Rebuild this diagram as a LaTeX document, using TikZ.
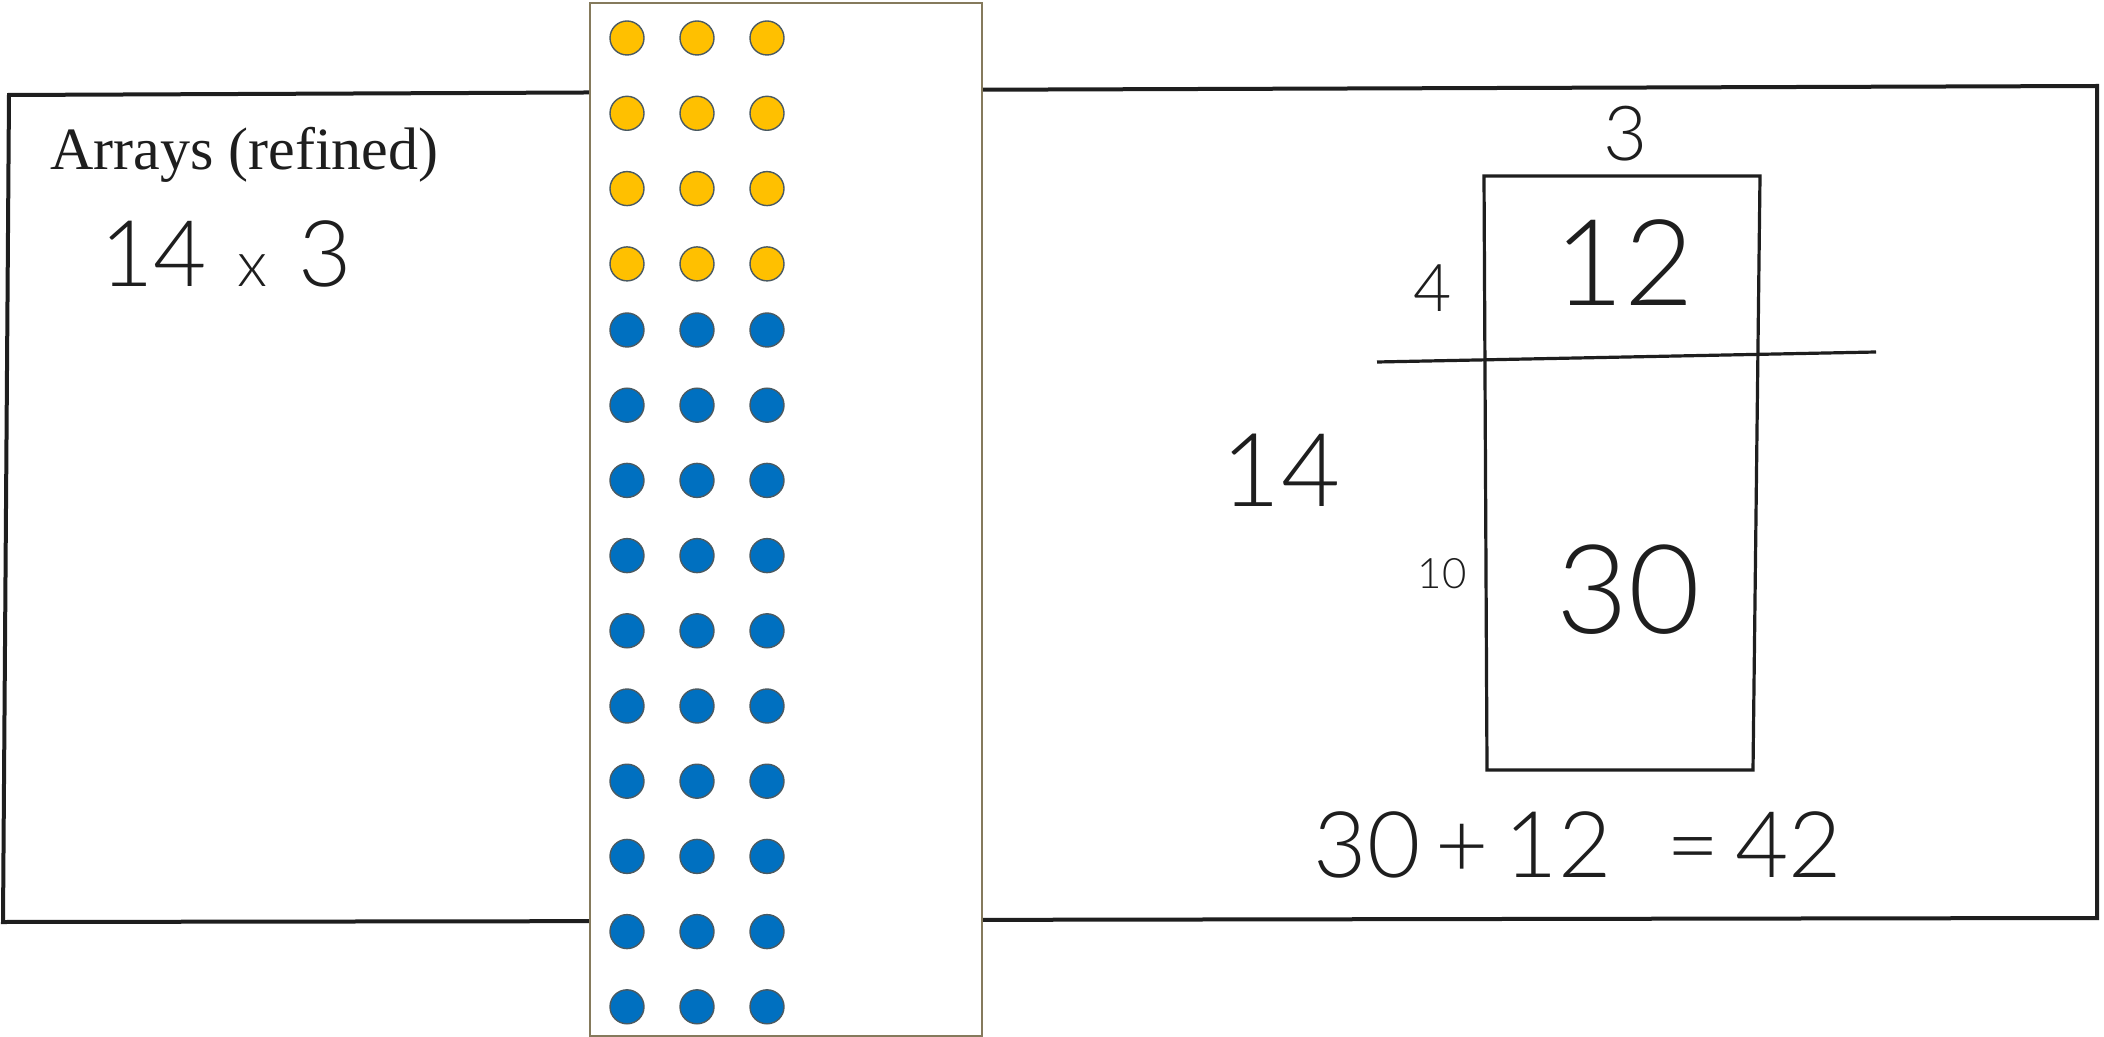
\documentclass[tikz,border=0pt]{standalone}
\usepackage{fontspec}
\setmainfont{Liberation Serif}
\newfontfamily\hand{Lato Light}
\definecolor{dotyellow}{HTML}{FFC000}
\definecolor{dotblue}{HTML}{0070C0}
\definecolor{dotline}{HTML}{4A5A62}
\definecolor{panelline}{HTML}{857A5C}
\definecolor{ink}{HTML}{1E1E1E}
\newcommand{\hsz}[1]{\fontsize{#1}{#1}\selectfont}
\begin{document}
\begin{tikzpicture}[x=0.5pt,y=-0.5pt,
  sheet/.style={draw=ink,line width=2pt},
  gridline/.style={draw=ink,line width=1.6pt},
  hw/.style={inner sep=0pt,text=ink,font=\hand},
  ydot/.style={circle,fill=dotyellow,draw=dotline,line width=0.7pt,minimum size=17pt,inner sep=0pt},
  bdot/.style={ydot,fill=dotblue}]
\useasboundingbox (0,0) rectangle (2104,1037);
\fill[white] (0,0) rectangle (2104,1037);
% left sheet
\draw[sheet] (700,92) -- (9,95) -- (3,922) -- (700,921);
% right sheet
\draw[sheet] (900,90) -- (2097,86) -- (2097,918) -- (900,920);
% dot panel
\draw[panelline,fill=white,line width=1pt] (590,3) rectangle (982,1036);
\foreach \c [count=\i] in {627,697,767}{
  \foreach \k in {0,...,3}{
    \node[ydot] (y\i\k) at (\c,{38+75.3*\k}) {};
  }
  \foreach \k in {0,...,9}{
    \node[bdot] (b\i\k) at (\c,{330+75.2*\k}) {};
  }
}
% left texts
\node[anchor=base west,inner sep=0pt,font=\fontsize{30}{32}\selectfont,text=ink] (title) at (50,170) {Arrays (refined)};
\node[hw,anchor=west,font=\hand\hsz{46}] (prob) at (100,254) {14\,\,{\hsz{32}x}\,\,3};
% area model
\draw[gridline] (1484,176) -- (1760,176) -- (1753,770) -- (1487,770) -- cycle;
\draw[gridline] (1377,362) -- (1876,352);
\node[hw,font=\hand\hsz{38}] (top3) at (1626,134) {3};
\node[hw,font=\hand\hsz{33}] (four) at (1433,288) {4};
\node[hw,font=\hand\hsz{60}] (twelve) at (1624,263) {12};
\node[hw,font=\hand\hsz{51}] (fourteen) at (1281,470) {14};
\node[hw,font=\hand\hsz{21}] (ten) at (1442,574) {10};
\node[hw,font=\hand\hsz{62}] (thirty) at (1628,590) {30};
\node[hw,font=\hand\hsz{46}] (sum) at (1578,845) {30\,+\,12\hspace{0.6em}=\,42};
\end{tikzpicture}
\end{document}
